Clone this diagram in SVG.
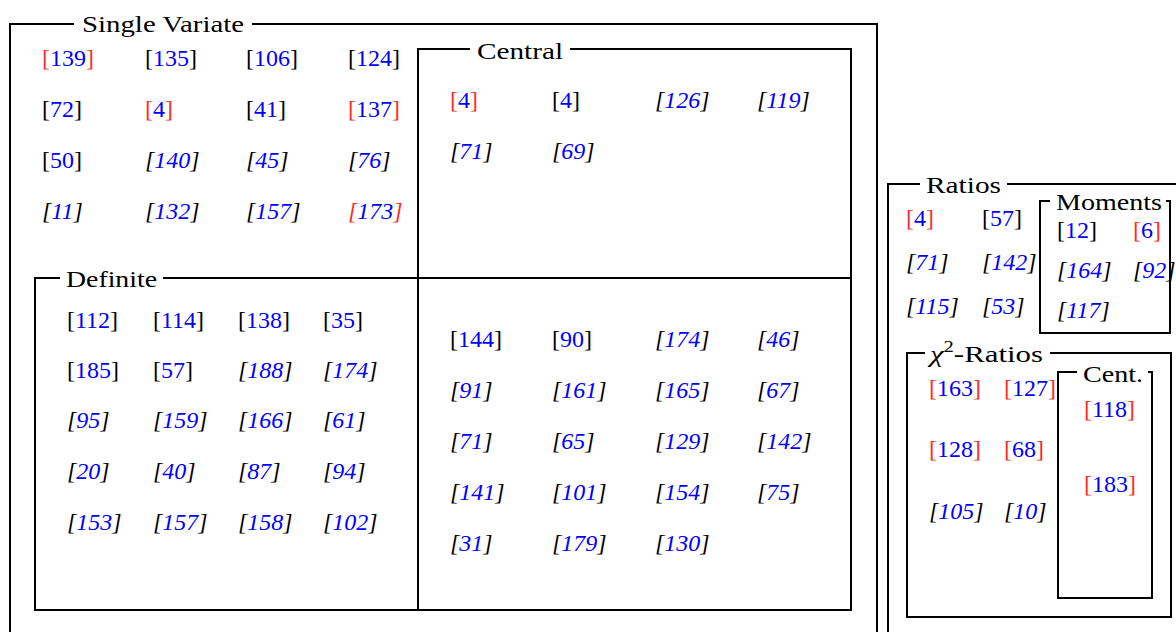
<svg xmlns="http://www.w3.org/2000/svg" width="1176" height="632" viewBox="0 0 1176 632">
<style>
.tx text{font-size:24px;fill:#0000ff}
.tx .t{fill:#000}
.i{font-style:italic}
.k{fill:#000}
.r{fill:#ff2a2a}
.ln{fill:none;stroke:#000;stroke-width:2}
</style>
<rect width="1176" height="632" fill="#fff"/>
<g id="frames">
<path class="ln" d="M74,24H10V640M252,24H877V640"/>
<path class="ln" d="M470,49H418V610H851V49H570"/>
<path class="ln" d="M60,278H35V610H418M163,278H851"/>
<path class="ln" d="M920,184H888V640M1007,184H1180"/>
<path class="ln" d="M1050,201H1040V333H1170V201H1166"/>
<path class="ln" d="M925,353H907V617H1171V353H1050"/>
<path class="ln" d="M1077,372H1058V598H1152V372H1148"/>
</g>
<g class="tx" font-family="Liberation Serif, Times New Roman, serif">
<g id="single-variate">
<text class="t" x="82" y="32" textLength="162" lengthAdjust="spacingAndGlyphs">Single Variate</text>
<text x="42" y="66"><tspan class="r">[</tspan>139<tspan class="r">]</tspan></text>
<text x="145" y="66"><tspan class="k">[</tspan>135<tspan class="k">]</tspan></text>
<text x="246" y="66"><tspan class="k">[</tspan>106<tspan class="k">]</tspan></text>
<text x="348" y="66"><tspan class="k">[</tspan>124<tspan class="k">]</tspan></text>
<text x="42" y="117"><tspan class="k">[</tspan>72<tspan class="k">]</tspan></text>
<text x="145" y="117"><tspan class="r">[</tspan>4<tspan class="r">]</tspan></text>
<text x="246" y="117"><tspan class="k">[</tspan>41<tspan class="k">]</tspan></text>
<text x="348" y="117"><tspan class="r">[</tspan>137<tspan class="r">]</tspan></text>
<text x="42" y="168"><tspan class="k">[</tspan>50<tspan class="k">]</tspan></text>
<text class="i" x="145" y="168"><tspan class="k">[</tspan>140<tspan class="k">]</tspan></text>
<text class="i" x="246" y="168"><tspan class="k">[</tspan>45<tspan class="k">]</tspan></text>
<text class="i" x="348" y="168"><tspan class="k">[</tspan>76<tspan class="k">]</tspan></text>
<text class="i" x="42" y="219"><tspan class="k">[</tspan>11<tspan class="k">]</tspan></text>
<text class="i" x="145" y="219"><tspan class="k">[</tspan>132<tspan class="k">]</tspan></text>
<text class="i" x="246" y="219"><tspan class="k">[</tspan>157<tspan class="k">]</tspan></text>
<text class="i" x="348" y="219"><tspan class="r">[</tspan>173<tspan class="r">]</tspan></text>
</g>
<g id="central">
<text class="t" x="477" y="59" textLength="86" lengthAdjust="spacingAndGlyphs">Central</text>
<text x="450" y="108"><tspan class="r">[</tspan>4<tspan class="r">]</tspan></text>
<text x="552" y="108"><tspan class="k">[</tspan>4<tspan class="k">]</tspan></text>
<text class="i" x="655" y="108"><tspan class="k">[</tspan>126<tspan class="k">]</tspan></text>
<text class="i" x="757" y="108"><tspan class="k">[</tspan>119<tspan class="k">]</tspan></text>
<text class="i" x="450" y="159"><tspan class="k">[</tspan>71<tspan class="k">]</tspan></text>
<text class="i" x="552" y="159"><tspan class="k">[</tspan>69<tspan class="k">]</tspan></text>
</g>
<g id="central-definite">
<text x="450" y="347"><tspan class="k">[</tspan>144<tspan class="k">]</tspan></text>
<text x="552" y="347"><tspan class="k">[</tspan>90<tspan class="k">]</tspan></text>
<text class="i" x="655" y="347"><tspan class="k">[</tspan>174<tspan class="k">]</tspan></text>
<text class="i" x="757" y="347"><tspan class="k">[</tspan>46<tspan class="k">]</tspan></text>
<text class="i" x="450" y="398"><tspan class="k">[</tspan>91<tspan class="k">]</tspan></text>
<text class="i" x="552" y="398"><tspan class="k">[</tspan>161<tspan class="k">]</tspan></text>
<text class="i" x="655" y="398"><tspan class="k">[</tspan>165<tspan class="k">]</tspan></text>
<text class="i" x="757" y="398"><tspan class="k">[</tspan>67<tspan class="k">]</tspan></text>
<text class="i" x="450" y="449"><tspan class="k">[</tspan>71<tspan class="k">]</tspan></text>
<text class="i" x="552" y="449"><tspan class="k">[</tspan>65<tspan class="k">]</tspan></text>
<text class="i" x="655" y="449"><tspan class="k">[</tspan>129<tspan class="k">]</tspan></text>
<text class="i" x="757" y="449"><tspan class="k">[</tspan>142<tspan class="k">]</tspan></text>
<text class="i" x="450" y="500"><tspan class="k">[</tspan>141<tspan class="k">]</tspan></text>
<text class="i" x="552" y="500"><tspan class="k">[</tspan>101<tspan class="k">]</tspan></text>
<text class="i" x="655" y="500"><tspan class="k">[</tspan>154<tspan class="k">]</tspan></text>
<text class="i" x="757" y="500"><tspan class="k">[</tspan>75<tspan class="k">]</tspan></text>
<text class="i" x="450" y="551"><tspan class="k">[</tspan>31<tspan class="k">]</tspan></text>
<text class="i" x="552" y="551"><tspan class="k">[</tspan>179<tspan class="k">]</tspan></text>
<text class="i" x="655" y="551"><tspan class="k">[</tspan>130<tspan class="k">]</tspan></text>
</g>
<g id="definite">
<text class="t" x="66" y="287" textLength="91" lengthAdjust="spacingAndGlyphs">Definite</text>
<text x="67" y="328"><tspan class="k">[</tspan>112<tspan class="k">]</tspan></text>
<text x="153" y="328"><tspan class="k">[</tspan>114<tspan class="k">]</tspan></text>
<text x="238" y="328"><tspan class="k">[</tspan>138<tspan class="k">]</tspan></text>
<text x="323" y="328"><tspan class="k">[</tspan>35<tspan class="k">]</tspan></text>
<text x="67" y="378"><tspan class="k">[</tspan>185<tspan class="k">]</tspan></text>
<text x="153" y="378"><tspan class="k">[</tspan>57<tspan class="k">]</tspan></text>
<text class="i" x="238" y="378"><tspan class="k">[</tspan>188<tspan class="k">]</tspan></text>
<text class="i" x="323" y="378"><tspan class="k">[</tspan>174<tspan class="k">]</tspan></text>
<text class="i" x="67" y="428"><tspan class="k">[</tspan>95<tspan class="k">]</tspan></text>
<text class="i" x="153" y="428"><tspan class="k">[</tspan>159<tspan class="k">]</tspan></text>
<text class="i" x="238" y="428"><tspan class="k">[</tspan>166<tspan class="k">]</tspan></text>
<text class="i" x="323" y="428"><tspan class="k">[</tspan>61<tspan class="k">]</tspan></text>
<text class="i" x="67" y="479"><tspan class="k">[</tspan>20<tspan class="k">]</tspan></text>
<text class="i" x="153" y="479"><tspan class="k">[</tspan>40<tspan class="k">]</tspan></text>
<text class="i" x="238" y="479"><tspan class="k">[</tspan>87<tspan class="k">]</tspan></text>
<text class="i" x="323" y="479"><tspan class="k">[</tspan>94<tspan class="k">]</tspan></text>
<text class="i" x="67" y="530"><tspan class="k">[</tspan>153<tspan class="k">]</tspan></text>
<text class="i" x="153" y="530"><tspan class="k">[</tspan>157<tspan class="k">]</tspan></text>
<text class="i" x="238" y="530"><tspan class="k">[</tspan>158<tspan class="k">]</tspan></text>
<text class="i" x="323" y="530"><tspan class="k">[</tspan>102<tspan class="k">]</tspan></text>
</g>
<g id="ratios">
<text class="t" x="926" y="193" textLength="75" lengthAdjust="spacingAndGlyphs">Ratios</text>
<text x="906" y="226"><tspan class="r">[</tspan>4<tspan class="r">]</tspan></text>
<text x="982" y="226"><tspan class="k">[</tspan>57<tspan class="k">]</tspan></text>
<text class="i" x="906" y="270"><tspan class="k">[</tspan>71<tspan class="k">]</tspan></text>
<text class="i" x="982" y="270"><tspan class="k">[</tspan>142<tspan class="k">]</tspan></text>
<text class="i" x="906" y="314"><tspan class="k">[</tspan>115<tspan class="k">]</tspan></text>
<text class="i" x="982" y="314"><tspan class="k">[</tspan>53<tspan class="k">]</tspan></text>
</g>
<g id="moments">
<text class="t" x="1056" y="210" textLength="106" lengthAdjust="spacingAndGlyphs">Moments</text>
<text x="1057" y="238"><tspan class="k">[</tspan>12<tspan class="k">]</tspan></text>
<text x="1133" y="238"><tspan class="r">[</tspan>6<tspan class="r">]</tspan></text>
<text class="i" x="1057" y="278"><tspan class="k">[</tspan>164<tspan class="k">]</tspan></text>
<text class="i" x="1133" y="278"><tspan class="k">[</tspan>92<tspan class="k">]</tspan></text>
<text class="i" x="1057" y="318"><tspan class="k">[</tspan>117<tspan class="k">]</tspan></text>
</g>
<g id="chi2-ratios">
<text class="t" x="930" y="362" textLength="113" lengthAdjust="spacingAndGlyphs"><tspan class="i">χ</tspan><tspan font-size="16" dy="-10">2</tspan><tspan dy="10">-Ratios</tspan></text>
<text x="929" y="396"><tspan class="r">[</tspan>163<tspan class="r">]</tspan></text>
<text x="1004" y="396"><tspan class="r">[</tspan>127<tspan class="r">]</tspan></text>
<text x="929" y="457"><tspan class="r">[</tspan>128<tspan class="r">]</tspan></text>
<text x="1004" y="457"><tspan class="r">[</tspan>68<tspan class="r">]</tspan></text>
<text class="i" x="929" y="519"><tspan class="k">[</tspan>105<tspan class="k">]</tspan></text>
<text class="i" x="1004" y="519"><tspan class="k">[</tspan>10<tspan class="k">]</tspan></text>
</g>
<g id="cent">
<text class="t" x="1083" y="382" textLength="60" lengthAdjust="spacingAndGlyphs">Cent.</text>
<text x="1084" y="417"><tspan class="r">[</tspan>118<tspan class="r">]</tspan></text>
<text x="1084" y="492"><tspan class="r">[</tspan>183<tspan class="r">]</tspan></text>
</g>
</g>
</svg>
